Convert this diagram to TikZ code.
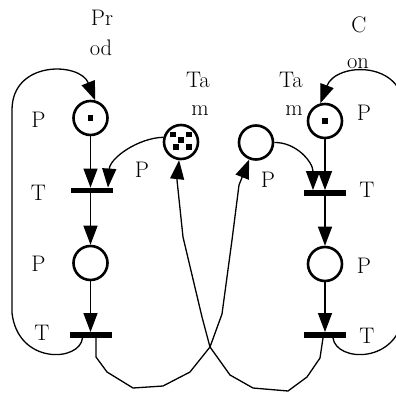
\documentclass[tikz,border=0pt]{standalone}
\usepackage{fontspec}
\usetikzlibrary{arrows.meta}
\begin{document}
\begin{tikzpicture}[x=1pt,y=-1pt,
  place/.style={circle,draw,line width=2.6pt,minimum size=34pt,inner sep=0pt},
  trans/.style={rectangle,fill=black,minimum width=42pt,minimum height=5.5pt,inner sep=0pt},
  token/.style={rectangle,fill=black,minimum size=5.5pt,inner sep=0pt},
  arc/.style={line width=1.3pt,-{Triangle[length=19pt,width=14pt]}},
  lbl/.style={anchor=base,inner sep=0pt,font=\fontsize{22.5}{26}\selectfont}]
\useasboundingbox (0,0) rectangle (396,394);
\clip (0,0) rectangle (396,394);
% places
\node[place] (p1l) at (90.5,118) {};
\node[place] (p2l) at (90.5,263) {};
\node[place] (p1r) at (325,121) {};
\node[place] (p2r) at (325,264) {};
\node[place] (tamL) at (181,142) {};
\node[place] (tamR) at (256,142.5) {};
% transitions
\node[trans] (t1l) at (92,190.5) {};
\node[trans] (t2l) at (90.5,335) {};
\node[trans] (t1r) at (325,193) {};
\node[trans] (t2r) at (325,335) {};
% tokens
\node[token] (k1) at (90.5,118) {};
\node[token] (k2) at (325,121) {};
\node[token] (k3) at (173,134.5) {};
\node[token] (k4) at (189,134.5) {};
\node[token] (k5) at (181,140) {};
\node[token] (k6) at (176,147) {};
\node[token] (k7) at (189,147) {};
% labels
\node[lbl] (l1) at (102,25) {Pr};
\node[lbl] (l2) at (101,55) {od};
\node[lbl] (l3) at (359,32) {C};
\node[lbl] (l4) at (358,68) {on};
\node[lbl] (l5) at (198,87) {Ta};
\node[lbl] (l6) at (200,115) {m};
\node[lbl] (l7) at (291,87) {Ta};
\node[lbl] (l8) at (294,115) {m};
\node[lbl] (l9) at (38.5,127) {P};
\node[lbl] (l10) at (38.5,200) {T};
\node[lbl] (l11) at (38.5,271) {P};
\node[lbl] (l12) at (42,340) {T};
\node[lbl] (l13) at (142,177) {P};
\node[lbl] (l14) at (268,187) {P};
\node[lbl] (l15) at (364,120) {P};
\node[lbl] (l16) at (367,197) {T};
\node[lbl] (l17) at (364,273) {P};
\node[lbl] (l18) at (367,343) {T};
% vertical arcs
\draw[arc] (p1l) -- (p1l|-t1l.north);
\draw[arc] (t2l.north|-t1l.south) -- (p2l);
\draw[arc] (p2l) -- (t2l);
\draw[arc] (p1r) -- (t1r);
\draw[arc] (t1r) -- (p2r);
\draw[arc] (p2r) -- (t2r);
% buffer arcs to transitions
\draw[arc] (tamL.165) .. controls (138,138) and (110,158) .. ([xshift=16pt]t1l.north);
\draw[arc] (tamR.0) .. controls (296,142) and (313,162) .. ([xshift=-12pt]t1r.north);
% loops
\draw[arc] ([xshift=-8pt]t2l.south) .. controls (80,362) and (18,365) .. (12,313)
  -- (12,110) .. controls (12,60) and (80,62) .. (p1l.75);
\draw[arc] ([xshift=8pt]t2r.south) .. controls (336,362) and (398,365) .. (404,313)
  -- (404,110) .. controls (404,60) and (336,62) .. (p1r.105);
% crossing arcs
\draw[arc] ([xshift=5.5pt]t2l.south) -- (96,357) -- (107,372) -- (133,388) -- (163,386)
  -- (190,372) -- (210,347) -- (222,314) -- (232,240) -- (239,185) -- (tamR);
\draw[arc] ([xshift=-2pt]t2r.south) -- (320,358) -- (307,377) -- (288,391) -- (253,388)
  -- (230,375) -- (210,347) -- (202,317) -- (183,237) -- (177,180) -- (tamL);
\end{tikzpicture}
\end{document}
